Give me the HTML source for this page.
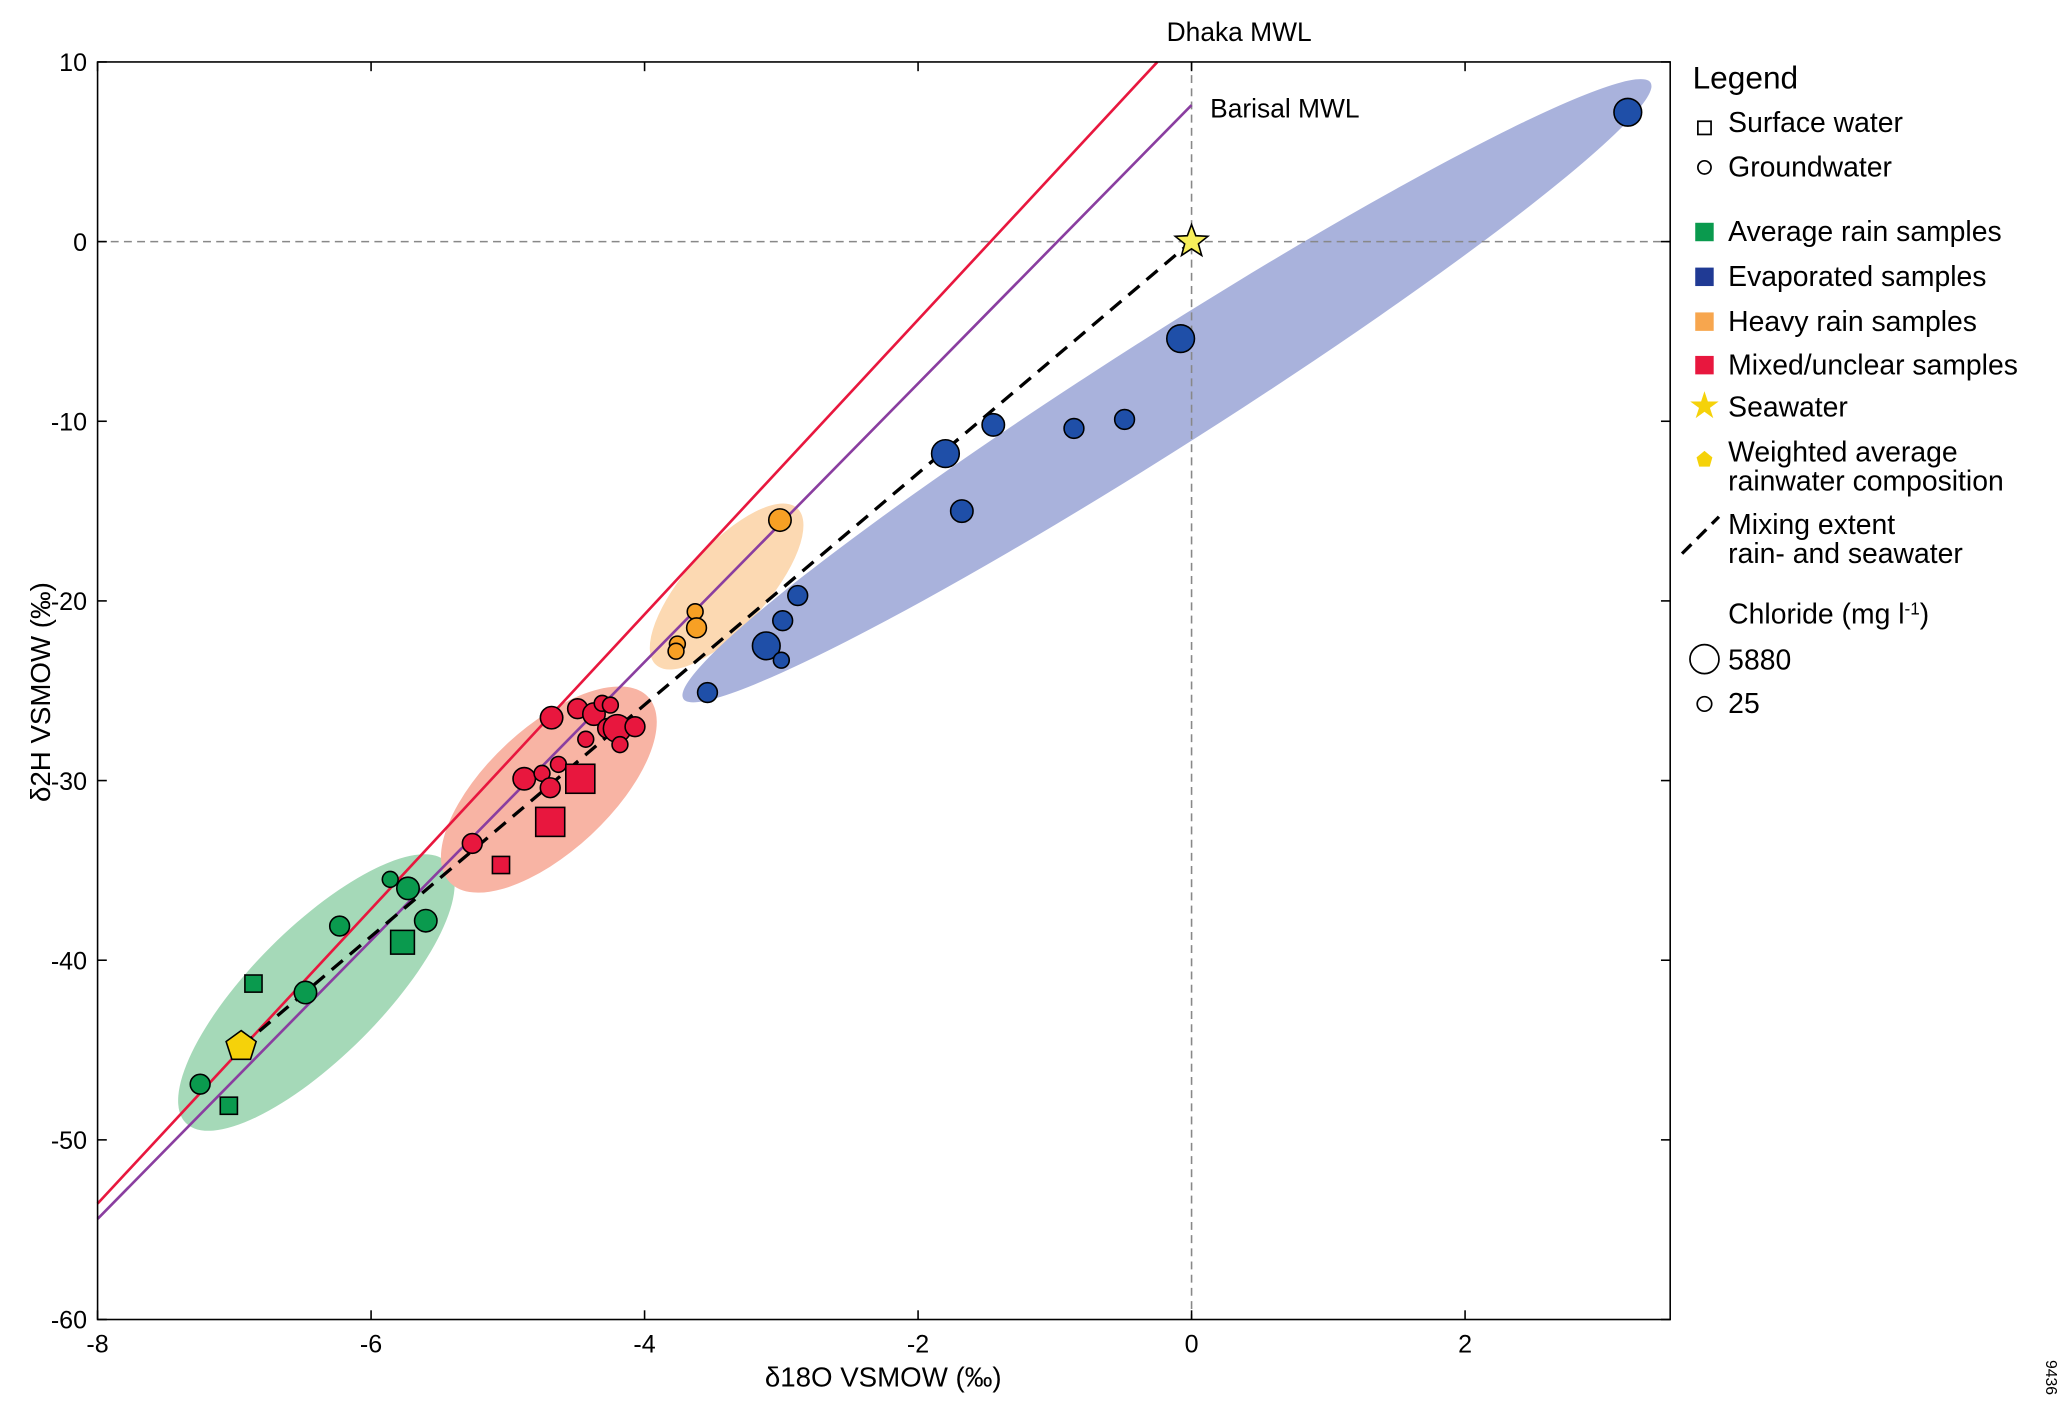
<!DOCTYPE html>
<html><head><meta charset="utf-8"><style>
html,body{margin:0;padding:0;background:#fff;}
svg{display:block;font-family:"Liberation Sans",sans-serif;}
</style></head><body>
<svg id="chart" width="2067" height="1423" viewBox="0 0 1568 1079.5" xmlns="http://www.w3.org/2000/svg">
<rect x="0" y="0" width="1568" height="1079.5" fill="#fff"/>
<g id="ellipses"></g>
<g id="grid"></g>
<g id="lines"></g>
<g id="points"></g>
<g id="axes"></g>
<text x="940" y="31" font-size="20" text-anchor="middle">Dhaka MWL</text>
<text x="918" y="89" font-size="20">Barisal MWL</text>
<text x="670" y="1052" font-size="21" text-anchor="middle">δ18O VSMOW (‰)</text>
<text transform="translate(38,525) rotate(-90)" font-size="21" text-anchor="middle">δ2H VSMOW (‰)</text>
<text transform="translate(1552,1045) rotate(90)" font-size="12" text-anchor="middle">9436</text>
<g font-size="21.5">
<text x="1284" y="67" font-size="24">Legend</text>
<rect x="1288" y="92" width="10" height="10" fill="#fff" stroke="#000" stroke-width="1.3"/>
<text x="1311" y="100">Surface water</text>
<circle cx="1293" cy="127" r="5" fill="#fff" stroke="#000" stroke-width="1.3"/>
<text x="1311" y="134">Groundwater</text>
<rect x="1286" y="169" width="14" height="14" fill="#0a9a4e"/>
<text x="1311" y="183">Average rain samples</text>
<rect x="1286" y="203" width="14" height="14" fill="#203a94"/>
<text x="1311" y="217">Evaporated samples</text>
<rect x="1286" y="237" width="14" height="14" fill="#f7a64e"/>
<text x="1311" y="251">Heavy rain samples</text>
<rect x="1286" y="270" width="14" height="14" fill="#e8173e"/>
<text x="1311" y="284">Mixed/unclear samples</text>
<text x="1293" y="317" font-size="28" fill="#f5d20a" text-anchor="middle">★</text>
<text x="1311" y="316">Seawater</text>
<polygon points="1293,342 1299,347 1297,354 1289,354 1287,347" fill="#f5d20a"/>
<text x="1311" y="350">Weighted average</text>
<text x="1311" y="372">rainwater composition</text>
<line x1="1276" y1="420" x2="1304" y2="392" stroke="#000" stroke-width="2.5" stroke-dasharray="10,6"/>
<text x="1311" y="405">Mixing extent</text>
<text x="1311" y="427">rain- and seawater</text>
<text x="1311" y="473">Chloride (mg l<tspan dy="-7" font-size="13">-1</tspan><tspan dy="7">)</tspan></text>
<circle cx="1293" cy="500" r="11" fill="#fff" stroke="#000" stroke-width="1.3"/>
<text x="1311" y="508">5880</text>
<circle cx="1293" cy="534" r="5.5" fill="#fff" stroke="#000" stroke-width="1.3"/>
<text x="1311" y="541">25</text>
</g>
</svg>
<script>
const xTicks=[-8,-6,-4,-2,0,2];
const yTicks=[10,0,-10,-20,-30,-40,-50,-60];
const greenCircX=[-7.25,-6.48,-6.23,-5.86,-5.73,-5.60];
const greenCircY=[-46.9,-41.8,-38.1,-35.5,-36.0,-37.8];
const greenCircS=[1,2,1,0,2,2];
const greenSqX=[-6.86,-7.04,-5.77];
const greenSqY=[-41.3,-48.1,-39.0];
const greenSqS=[0,0,2];
const redCircX=[-5.26,-4.88,-4.75,-4.69,-4.63,-4.68,-4.49,-4.43,-4.37,-4.31,-4.25,-4.27,-4.20,-4.18,-4.07];
const redCircY=[-33.5,-29.9,-29.6,-30.4,-29.1,-26.5,-26.0,-27.7,-26.3,-25.7,-25.8,-27.1,-27.1,-28.0,-27.0];
const redCircS=[1,2,0,1,0,2,1,0,2,0,0,1,3,0,1];
const redSqX=[-5.05,-4.69,-4.47];
const redSqY=[-34.7,-32.3,-29.9];
const redSqS=[0,3,3];
const orangeX=[-3.01,-3.63,-3.62,-3.76,-3.77];
const orangeY=[-15.5,-20.6,-21.5,-22.4,-22.8];
const orangeS=[2,0,1,0,0];
const blueX=[3.19,-0.08,-1.45,-0.86,-0.49,-1.80,-1.68,-2.88,-2.99,-3.11,-3.00,-3.54];
const blueY=[7.2,-5.4,-10.2,-10.4,-9.9,-11.8,-15.0,-19.7,-21.1,-22.5,-23.3,-25.1];
const blueS=[3,3,2,1,1,3,2,1,1,3,0,1];
const rainAvg=[-6.95,-44.8];
const seawater=[0,0];
const dhakaSlope=8.2, dhakaIntercept=12.05;
const barisalSlope=7.75, barisalIntercept=7.6;
const ellCx=[-6.4,-4.7,-3.4,-0.18];
const ellCy=[-41.8,-30.5,-19.2,-8.3];
const ellRx=[140,103,80,435];
const ellRy=[49,47,31,42];
const ellAng=[-45,-43,-48,-32.5];
const ellFill=["#a5d9b8","#f8b4a4","#fcd9b2","#a9b2dc"];
const ellName=["green-ellipse","red-ellipse","orange-ellipse","blue-ellipse"];

const NS="http://www.w3.org/2000/svg";
const X0=74,X1=1267,Y0=47,Y1=1001,xmin=-8,xmax=3.5,ymin=-60,ymax=10;
const sx=v=>X0+(v-xmin)/(xmax-xmin)*(X1-X0);
const sy=v=>Y1-(v-ymin)/(ymax-ymin)*(Y1-Y0);
const sizes=[6,7.5,8.5,10.5];
function mk(tag,attrs,parent){const e=document.createElementNS(NS,tag);for(const k in attrs)e.setAttribute(k,attrs[k]);parent.appendChild(e);return e;}
const gE=document.getElementById('ellipses'),gG=document.getElementById('grid'),gL=document.getElementById('lines'),gP=document.getElementById('points'),gA=document.getElementById('axes');
for(let i=0;i<ellCx.length;i++){
 const e=mk('ellipse',{cx:sx(ellCx[i]),cy:sy(ellCy[i]),rx:ellRx[i],ry:ellRy[i],fill:ellFill[i],transform:`rotate(${ellAng[i]} ${sx(ellCx[i])} ${sy(ellCy[i])})`},gE);
 
 
}
let l=mk('line',{x1:X0,x2:X1,y1:sy(0),y2:sy(0),stroke:'#888','stroke-width':1.2,'stroke-dasharray':'6,4'},gG);


l=mk('line',{x1:sx(0),x2:sx(0),y1:Y0,y2:Y1,stroke:'#888','stroke-width':1.2,'stroke-dasharray':'6,4'},gG);


let xEnd=(ymax-dhakaIntercept)/dhakaSlope;
l=mk('line',{x1:sx(-8),y1:sy(dhakaIntercept+dhakaSlope*-8),x2:sx(xEnd),y2:sy(ymax),stroke:'#e8173e','stroke-width':2},gL);


l=mk('line',{x1:sx(-8),y1:sy(barisalIntercept+barisalSlope*-8),x2:sx(0),y2:sy(barisalIntercept),stroke:'#8a3ea0','stroke-width':2},gL);


l=mk('line',{x1:sx(rainAvg[0]),y1:sy(rainAvg[1]),x2:sx(seawater[0]),y2:sy(seawater[1]),stroke:'#000','stroke-width':2.5,'stroke-dasharray':'11,7'},gL);


function circles(xs,ys,ss,fill,name){for(let i=0;i<xs.length;i++){const c=mk('circle',{cx:sx(xs[i]),cy:sy(ys[i]),r:sizes[ss[i]],fill:fill,stroke:'#000','stroke-width':1.2},gP);
 
 }}
function squares(xs,ys,ss,fill,name){for(let i=0;i<xs.length;i++){const h=sizes[ss[i]]+0.5;const r=mk('rect',{x:sx(xs[i])-h,y:sy(ys[i])-h,width:2*h,height:2*h,fill:fill,stroke:'#000','stroke-width':1.2},gP);
 
 }}
circles(greenCircX,greenCircY,greenCircS,'#0a9a4e','green-groundwater-point');
squares(greenSqX,greenSqY,greenSqS,'#0a9a4e','green-surface-point');
circles(redCircX,redCircY,redCircS,'#e8173e','red-groundwater-point');
squares(redSqX,redSqY,redSqS,'#e8173e','red-surface-point');
circles(orangeX,orangeY,orangeS,'#f7a024','orange-groundwater-point');
circles(blueX,blueY,blueS,'#1f4fa8','blue-groundwater-point');
{const cx=sx(rainAvg[0]),cy=sy(rainAvg[1]),R=12;let pts=[];for(let k=0;k<5;k++){const a=-Math.PI/2+k*2*Math.PI/5;pts.push((cx+R*Math.cos(a)).toFixed(1)+','+(cy+R*Math.sin(a)).toFixed(1));}
const p=mk('polygon',{points:pts.join(' '),fill:'#f5d20a',stroke:'#000','stroke-width':1.2},gP);

}
{const cx=sx(seawater[0]),cy=sy(seawater[1]),R=13,r=5.5;let pts=[];for(let k=0;k<10;k++){const a=-Math.PI/2+k*Math.PI/5;const rr=k%2?r:R;pts.push((cx+rr*Math.cos(a)).toFixed(1)+','+(cy+rr*Math.sin(a)).toFixed(1));}
const p=mk('polygon',{points:pts.join(' '),fill:'#f7ee5a',stroke:'#000','stroke-width':1.2},gP);

}
const fr=mk('rect',{x:X0,y:Y0,width:X1-X0,height:Y1-Y0,fill:'none',stroke:'#000','stroke-width':1.2},gA);


xTicks.forEach(v=>{const x=sx(v);
 mk('line',{x1:x,x2:x,y1:Y1,y2:Y1-7,stroke:'#000','stroke-width':1.2},gA);
 mk('line',{x1:x,x2:x,y1:Y0,y2:Y0+7,stroke:'#000','stroke-width':1.2},gA);
 const t=mk('text',{x:x,y:Y1+25,'font-size':19,'text-anchor':'middle'},gA);t.textContent=v;
 
 });
yTicks.forEach(v=>{const y=sy(v);
 mk('line',{x1:X0,x2:X0+7,y1:y,y2:y,stroke:'#000','stroke-width':1.2},gA);
 mk('line',{x1:X1,x2:X1-7,y1:y,y2:y,stroke:'#000','stroke-width':1.2},gA);
 const t=mk('text',{x:X0-8,y:y+7,'font-size':19,'text-anchor':'end'},gA);t.textContent=v;
 
 });
</script>
</body></html>
